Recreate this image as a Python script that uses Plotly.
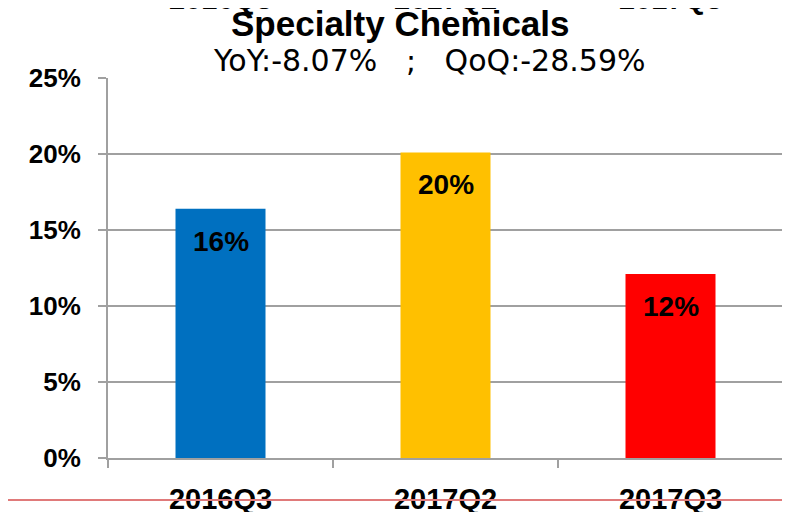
import plotly.graph_objects as go

quarters = ["2016Q3", "2017Q2", "2017Q3"]
margins = [16.4, 20.1, 12.1]
bar_labels = ["16%", "20%", "12%"]
bar_colors = ["#0070C0", "#FFC000", "#FF0000"]
y_ticks = [0, 5, 10, 15, 20, 25]
y_tick_text = ["0%", "5%", "10%", "15%", "20%", "25%"]

title_text = "Specialty Chemicals"
subtitle_text = "YoY:-8.07%  \u00a0;\u00a0  QoQ:-28.59%"

bold_font = "Liberation Sans, Arial, sans-serif"

fig = go.Figure()

fig.add_trace(
    go.Bar(
        x=quarters,
        y=margins,
        width=0.4,
        marker=dict(color=bar_colors, line=dict(width=0)),
        hoverinfo="skip",
    )
)

# value labels just below the bar tops
for q, v, lab in zip(quarters, margins, bar_labels):
    fig.add_annotation(
        x=q, y=v, text="<b>%s</b>" % lab, showarrow=False,
        yanchor="top", yshift=-15,
        font=dict(family=bold_font, size=28, color="black"),
    )

# the cut-off category labels at the very top of the image
for q in quarters:
    fig.add_annotation(
        x=q, y=1.161, yref="paper", text="<b>%s</b>" % q, showarrow=False,
        yanchor="bottom", font=dict(family=bold_font, size=29, color="black"),
    )

fig.add_annotation(
    x=0.4326, xref="paper", y=1.143, yref="paper", text="<b>%s</b>" % title_text,
    showarrow=False, yanchor="middle",
    font=dict(family=bold_font, size=35, color="black"),
)
fig.add_annotation(
    x=0.4756, xref="paper", y=1.047, yref="paper", text=subtitle_text,
    showarrow=False, yanchor="middle",
    font=dict(family="DejaVu Sans, Verdana, sans-serif", size=30, color="black"),
)

# red rule across the bottom
fig.add_shape(
    type="line", xref="paper", yref="paper",
    x0=-0.16, x1=1.03, y0=-0.1105, y1=-0.1105,
    line=dict(color="#E07A7A", width=2),
)

fig.update_layout(
    width=782,
    height=504,
    margin=dict(l=100, r=7, t=70, b=54, autoexpand=False),
    paper_bgcolor="white",
    plot_bgcolor="white",
    showlegend=False,
    xaxis=dict(
        type="category",
        automargin=False,
        tickson="boundaries",
        ticks="outside",
        ticklen=8,
        tickcolor="#A0A0A0",
        tickwidth=2,
        showline=True,
        linecolor="#A0A0A0",
        linewidth=2,
        showgrid=False,
        ticklabelstandoff=14,
        tickfont=dict(family=bold_font, size=29, color="black", weight="bold"),
    ),
    yaxis=dict(
        range=[0, 25],
        automargin=False,
        tickvals=y_ticks,
        ticktext=y_tick_text,
        ticks="outside",
        ticklen=8,
        tickcolor="#A0A0A0",
        tickwidth=2,
        showline=True,
        linecolor="#A0A0A0",
        linewidth=2,
        showgrid=True,
        gridcolor="#A0A0A0",
        gridwidth=2,
        zeroline=False,
        ticklabelstandoff=12,
        tickfont=dict(family=bold_font, size=26, color="black", weight="bold"),
    ),
)

fig.write_html("out.html")
